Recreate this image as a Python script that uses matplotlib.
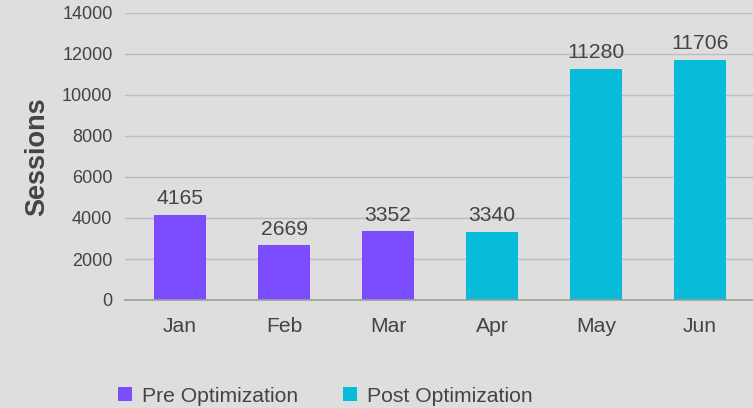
import matplotlib
matplotlib.use("Agg")
import matplotlib.pyplot as plt
from matplotlib.patches import Patch

months = ["Jan", "Feb", "Mar", "Apr", "May", "Jun"]
sessions = [4165, 2669, 3352, 3340, 11280, 11706]
phase = ["Pre", "Pre", "Pre", "Post", "Post", "Post"]
colors_map = {"Pre": "#7c4dff", "Post": "#07bcd8"}
legend_labels = ["Pre Optimization", "Post Optimization"]
yticks = [0, 2000, 4000, 6000, 8000, 10000, 12000, 14000]

plt.rcParams['font.family'] = ['Liberation Sans', 'DejaVu Sans']
bg = "#dedede"
txt = "#444444"

fig = plt.figure(figsize=(7.53, 4.08), dpi=100, facecolor=bg)
ax = fig.add_axes([125/753, 108/408, 628/753, (300-13)/408])
ax.set_facecolor(bg)

x = list(range(len(months)))
bars = ax.bar(x, sessions, width=0.5, color=[colors_map[p] for p in phase], zorder=3)
for xi, v in zip(x, sessions):
    ax.text(xi, v + 330, str(v), ha="center", va="bottom", fontsize=15.2, color=txt)

ax.set_xlim(-0.529, 5.51)
ax.set_ylim(0, 14000)
ax.set_yticks(yticks)
ax.set_yticklabels([str(t) for t in yticks], fontsize=13, color=txt)
ax.set_xticks(x)
ax.set_xticklabels(months, fontsize=15.2, color=txt)
ax.tick_params(axis="both", length=0)
ax.tick_params(axis="y", pad=9)
ax.tick_params(axis="x", pad=12)
ax.grid(axis="y", color="#bdbdbd", linewidth=1, zorder=0)
for s in ["top", "right", "left"]:
    ax.spines[s].set_visible(False)
ax.spines["bottom"].set_color("#9e9e9e")
ax.spines["bottom"].set_linewidth(1.2)
ax.spines["bottom"].set_zorder(4)

fig.text(37.5/753, 1 - 157/408, "Sessions", rotation=90, ha="center", va="center",
         fontsize=19.5, fontweight="bold", color=txt)

handles = [Patch(facecolor=colors_map["Pre"]), Patch(facecolor=colors_map["Post"])]
fig.legend(handles, legend_labels, loc="center left", bbox_to_anchor=(99/753, 1 - 396/408),
           ncol=2, frameon=False, fontsize=15.2, labelcolor=txt, handlelength=0.67,
           handleheight=0.67, handletextpad=0.48, columnspacing=2.1)

fig.savefig("out.png", dpi=100, facecolor=bg)
